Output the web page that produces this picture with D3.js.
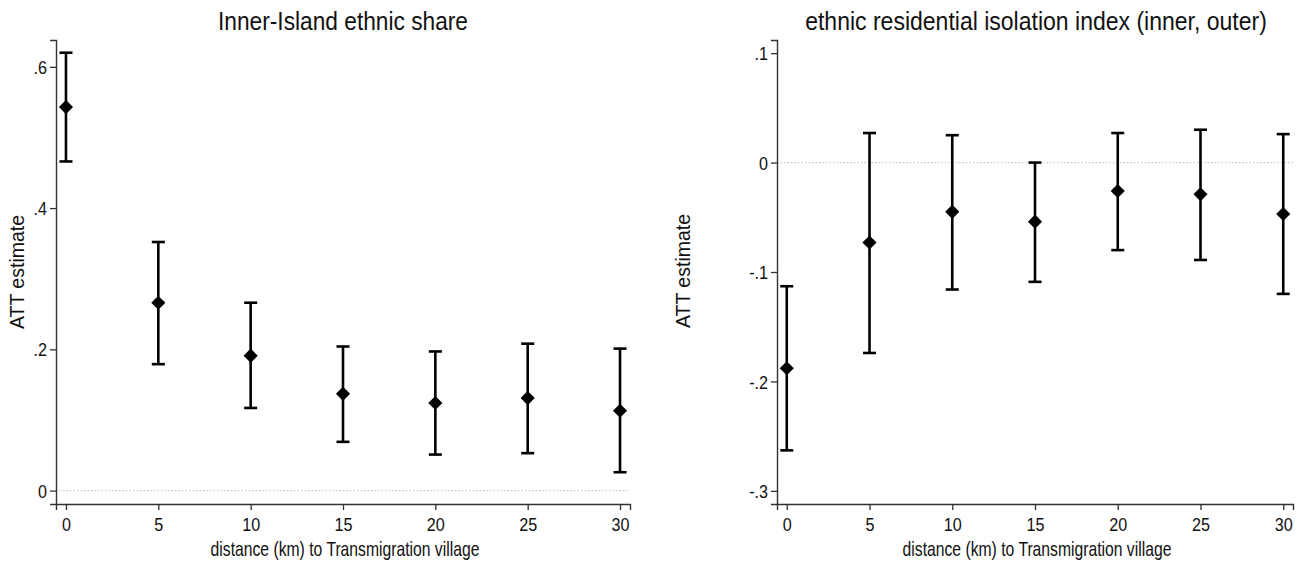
<!DOCTYPE html>
<html>
<head>
<meta charset="utf-8">
<script src="https://cdn.jsdelivr.net/npm/d3@7"></script>
<style>
  body { margin: 0; background: #fff; }
  svg { display: block; }
  text { font-family: "Liberation Sans Narrow", "Arial Narrow", "Liberation Sans", Arial, sans-serif; fill: #111; }
  .ytitle { font-family: "Liberation Sans", Arial, sans-serif; }
</style>
</head>
<body>
<script>
// distances (km)
var distances = [0, 5, 10, 15, 20, 25, 30];

// panel 1: Inner-Island ethnic share
var shareEst = [0.543, 0.266, 0.191, 0.137, 0.124, 0.131, 0.113];
var shareHi  = [0.620, 0.352, 0.266, 0.204, 0.197, 0.208, 0.201];
var shareLo  = [0.466, 0.179, 0.117, 0.069, 0.051, 0.053, 0.026];
var shareTicks = [0, 0.2, 0.4, 0.6];
var shareTickLabels = ["0", ".2", ".4", ".6"];

// panel 2: isolation index
var isoEst = [-0.188, -0.073, -0.045, -0.054, -0.026, -0.029, -0.047];
var isoHi  = [-0.113, 0.027, 0.025, 0.000, 0.027, 0.030, 0.026];
var isoLo  = [-0.263, -0.174, -0.116, -0.109, -0.080, -0.089, -0.120];
var isoTicks = [-0.3, -0.2, -0.1, 0, 0.1];
var isoTickLabels = ["-.3", "-.2", "-.1", "0", ".1"];

var xTicks = [0, 5, 10, 15, 20, 25, 30];

var W = 1304, H = 564;

var svg = d3.select("body").append("svg")
    .attr("width", W)
    .attr("height", H);

// text squeezed horizontally to a given width (stata uses a condensed face)
function squeezedText(parent, x, y, str, size, width) {
    var t = parent.append("text")
        .attr("text-anchor", "middle")
        .style("font-size", size + "px")
        .text(str);
    var k = width / t.node().getComputedTextLength();
    t.attr("transform", "translate(" + x + "," + y + ") scale(" + k + ",1)");
    return t;
}

function drawPanel(p) {
    var x = d3.scaleLinear().domain(p.xDomain).range([p.left, p.right]);
    var y = d3.scaleLinear().domain(p.yDomain).range([p.bottom, p.top]);

    var g = svg.append("g");

    // zero reference line
    g.append("line")
        .attr("x1", p.left).attr("x2", p.right)
        .attr("y1", y(0)).attr("y2", y(0))
        .attr("stroke", "#c8c8c8")
        .attr("stroke-width", 1.3)
        .attr("stroke-dasharray", "1.5,2");

    var xAxis = d3.axisBottom(x)
        .tickValues(xTicks)
        .tickSize(6)
        .tickPadding(5)
        .tickFormat(function (d) { return String(d); });

    var yAxis = d3.axisLeft(y)
        .tickValues(p.ticks)
        .tickSize(6)
        .tickPadding(3)
        .tickFormat(function (d, i) { return p.tickLabels[i]; });

    var gx = g.append("g")
        .attr("transform", "translate(0," + p.bottom + ")")
        .call(xAxis);
    var gy = g.append("g")
        .attr("transform", "translate(" + p.left + ",0)")
        .call(yAxis);

    [gx, gy].forEach(function (a) {
        a.select(".domain").attr("stroke", "#333").attr("stroke-width", 1.4);
        a.selectAll(".tick line").attr("stroke", "#333").attr("stroke-width", 1.3);
        a.selectAll(".tick text").attr("fill", "#111").style("font-size", "19px")
            .style("font-family", '"Liberation Sans Narrow", "Arial Narrow", Arial, sans-serif');
    });
    // narrow the tick labels a little, keeping their anchor point
    gx.selectAll(".tick text")
        .attr("dy", "0.85em")
        .attr("transform", "scale(0.85,1)")
        .attr("x", 0);
    gy.selectAll(".tick text")
        .attr("dy", "0.35em")
        .attr("x", -9 / 0.85)
        .attr("transform", "scale(0.85,1)");

    // error bars
    var capW = 6.5;
    var bars = g.selectAll(".bar")
        .data(distances)
        .enter().append("g")
        .attr("class", "bar");

    bars.append("line")
        .attr("x1", function (d) { return x(d); })
        .attr("x2", function (d) { return x(d); })
        .attr("y1", function (d, i) { return y(p.hi[i]); })
        .attr("y2", function (d, i) { return y(p.lo[i]); })
        .attr("stroke", "#000").attr("stroke-width", 2.6);

    bars.append("line")
        .attr("x1", function (d) { return x(d) - capW; })
        .attr("x2", function (d) { return x(d) + capW; })
        .attr("y1", function (d, i) { return y(p.hi[i]); })
        .attr("y2", function (d, i) { return y(p.hi[i]); })
        .attr("stroke", "#000").attr("stroke-width", 2.6);

    bars.append("line")
        .attr("x1", function (d) { return x(d) - capW; })
        .attr("x2", function (d) { return x(d) + capW; })
        .attr("y1", function (d, i) { return y(p.lo[i]); })
        .attr("y2", function (d, i) { return y(p.lo[i]); })
        .attr("stroke", "#000").attr("stroke-width", 2.6);

    var diamond = d3.symbol().type(d3.symbolSquare).size(100);
    bars.append("path")
        .attr("d", diamond)
        .attr("transform", function (d, i) {
            return "translate(" + x(d) + "," + y(p.est[i]) + ") rotate(45)";
        })
        .attr("fill", "#000");

    // titles
    squeezedText(svg, p.titleX, 30, p.title, 25, p.titleLen);
    squeezedText(svg, p.xTitleX, 556, "distance (km) to Transmigration village", 20, 269);

    svg.append("text")
        .attr("class", "ytitle")
        .attr("transform", "translate(" + p.yTitleX + "," + p.yTitleY + ") rotate(-90)")
        .attr("text-anchor", "middle")
        .style("font-size", "19.5px")
        .text("ATT estimate");
}

drawPanel({
    title: "Inner-Island ethnic share",
    titleX: 343, titleLen: 250,
    xTitleX: 345,
    left: 56, right: 630, top: 40, bottom: 504,
    xDomain: [-0.54, 30.54],
    yDomain: [-0.019, 0.638],
    est: shareEst, hi: shareHi, lo: shareLo,
    ticks: shareTicks, tickLabels: shareTickLabels,
    yTitleX: 24, yTitleY: 272
});

drawPanel({
    title: "ethnic residential isolation index (inner, outer)",
    titleX: 1036, titleLen: 462,
    xTitleX: 1037,
    left: 777, right: 1293, top: 40, bottom: 504,
    xDomain: [-0.59, 30.59],
    yDomain: [-0.312, 0.112],
    est: isoEst, hi: isoHi, lo: isoLo,
    ticks: isoTicks, tickLabels: isoTickLabels,
    yTitleX: 690, yTitleY: 271
});
</script>
</body>
</html>
